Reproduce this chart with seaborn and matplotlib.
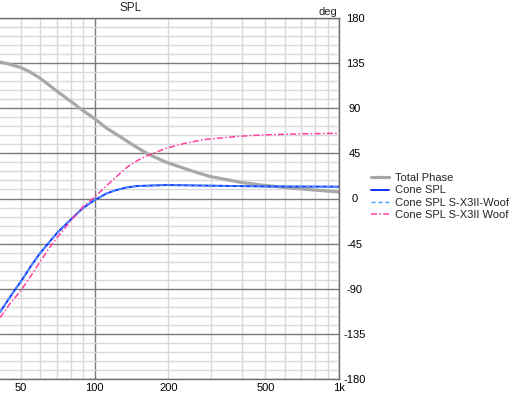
import matplotlib
matplotlib.use("Agg")
import matplotlib.pyplot as plt
import seaborn as sns
from matplotlib.ticker import FixedLocator, FixedFormatter, NullFormatter

# ---- data ----
phase_f = [41, 45, 50, 54.4, 59.3, 64.6, 69.9, 80, 87, 100, 111.9, 126.9, 137, 150, 165.7, 197, 250, 296, 399, 498, 703, 1000]
phase_v = [136.2, 133.8, 130.5, 126.2, 120.5, 113.8, 107.2, 96.8, 90, 79.5, 70.2, 61.8, 56.5, 50.5, 44.2, 36, 27.5, 22, 16, 13, 9.5, 6.5]

cone_f = [41, 47.2, 50, 54.4, 59.3, 65.6, 69.9, 80, 89.3, 100, 111.9, 121, 135, 150, 197, 280, 498, 1000]
cone_v = [-113.2, -91, -82.5, -68.8, -55.7, -42.8, -34.8, -20.8, -9.8, -1.5, 5, 8, 11, 12.5, 13.4, 12.9, 12, 11.8]

woofer_f = [41, 45, 50, 54.4, 59.3, 65.6, 69.9, 80, 89.3, 100, 110, 121, 137, 150, 165.7, 197, 234, 280, 399, 498, 703, 1000]
woofer_v = [-118.8, -105, -91.5, -78.5, -64.5, -48.5, -39.5, -22, -8.5, 1.5, 11, 20.5, 32, 38, 43.2, 50.2, 55, 58.8, 62.2, 63.5, 64.5, 65]

labels = ["Total Phase", "Cone SPL", "Cone SPL S-X3II-Woofer", "Cone SPL S-X3II Woofer"]
xtick_major = [100, 1000]
xtick_major_labels = ["100", "1k"]
xtick_minor = [50, 60, 70, 80, 90, 200, 300, 400, 500, 600, 700, 800, 900]
xtick_minor_labels = ["50", "", "", "", "", "200", "", "", "500", "", "", "", ""]
ytick_major = [-180, -135, -90, -45, 0, 45, 90, 135, 180]
ytick_minor = list(range(-180, 181, 9))

sns.set_style("white")
plt.rcParams['font.family'] = ['Liberation Sans', 'DejaVu Sans']
plt.rcParams['axes.unicode_minus'] = False

W, H = 510, 397
fig = plt.figure(figsize=(W / 100, H / 100), dpi=100)
ax = fig.add_axes([0, 1 - 379 / H, 339 / W, (379 - 18) / H])

sns.lineplot(x=phase_f, y=phase_v, ax=ax, color="#a8a8a8", lw=2.3, label=labels[0], sort=False)
sns.lineplot(x=cone_f, y=cone_v, ax=ax, color="#1030ff", lw=1.4, label=labels[1], sort=False)
sns.lineplot(x=cone_f, y=cone_v, ax=ax, color="#4a9cff", lw=1.0, label=labels[2], sort=False)
ax.lines[-1].set_linestyle((0, (3, 2)))
sns.lineplot(x=woofer_f, y=woofer_v, ax=ax, color="#ff3fa0", lw=1.1, label=labels[3], sort=False)
ax.lines[-1].set_linestyle((0, (4, 1.5, 1, 1.5)))
ax.get_legend().remove()

ax.set_xscale("log")
ax.set_xlim(41, 1000)
ax.set_ylim(-180, 180)

ax.xaxis.set_major_locator(FixedLocator(xtick_major))
ax.xaxis.set_major_formatter(FixedFormatter(xtick_major_labels))
ax.xaxis.set_minor_locator(FixedLocator(xtick_minor))
ax.xaxis.set_minor_formatter(FixedFormatter(xtick_minor_labels))
ax.yaxis.set_major_locator(FixedLocator(ytick_major))
ax.yaxis.set_minor_locator(FixedLocator(ytick_minor))
ax.yaxis.set_minor_formatter(NullFormatter())
ax.yaxis.tick_right()

ax.grid(which="minor", color="#d9d9d9", lw=1.0)
ax.grid(which="major", color="#7a7a7a", lw=1.0)
ax.set_axisbelow(True)

ax.tick_params(axis="both", which="both", length=0, labelsize=8, colors="black")
ax.tick_params(axis="x", which="both", pad=3)
ax.tick_params(axis="y", which="both", pad=11.5)
for t in ax.get_yticklabels():
    t.set_horizontalalignment("center")

for s in ["top", "right", "bottom"]:
    ax.spines[s].set_color("#6e6e6e")
    ax.spines[s].set_linewidth(1.0)
ax.spines["left"].set_visible(False)

ax.set_xlabel("")
ax.set_ylabel("")

fig.text(131 / W, 1 - 8 / H, "SPL", ha="center", va="center", fontsize=8.5)
fig.text(337 / W, 1 - 12 / H, "deg", ha="right", va="center", fontsize=8)

handles = ax.get_lines()[:4]
fig.legend(handles, labels, loc="upper left", bbox_to_anchor=(371 / W, 1 - 173 / H),
           frameon=False, fontsize=8, handlelength=1.6, handletextpad=0.6,
           labelspacing=0.22, borderpad=0, borderaxespad=0)

fig.savefig("out.png", dpi=100)
